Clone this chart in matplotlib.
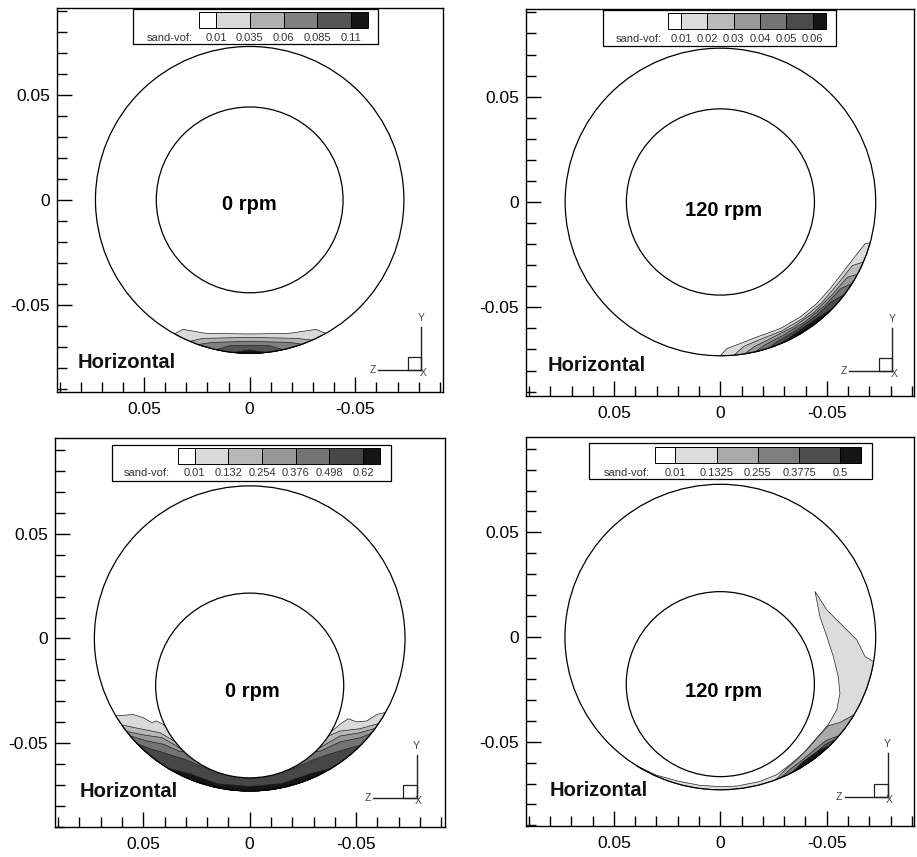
import numpy as np
import matplotlib
matplotlib.use('Agg')
import matplotlib.pyplot as plt
from matplotlib.patches import Circle, Rectangle

plt.rcParams['font.family'] = ['Liberation Sans', 'DejaVu Sans']
plt.rcParams['axes.unicode_minus'] = False

# ---- data ----
R_OUT = 0.073
R_IN = 0.0442
inner_center_y = [0.0, 0.0, -0.0225, -0.0225]
rpm_labels = ['0 rpm', '120 rpm', '0 rpm', '120 rpm']

levels_1 = ['0.01', '0.035', '0.06', '0.085', '0.11']
levels_2 = ['0.01', '0.02', '0.03', '0.04', '0.05', '0.06']
levels_3 = ['0.01', '0.132', '0.254', '0.376', '0.498', '0.62']
levels_4 = ['0.01', '0.1325', '0.255', '0.3775', '0.5']

grays_1 = ['#ffffff', '#d9d9d9', '#b0b0b0', '#808080', '#555555', '#151515']
grays_2 = ['#ffffff', '#dcdcdc', '#bbbbbb', '#999999', '#747474', '#4b4b4b', '#151515']
grays_3 = ['#ffffff', '#dadada', '#b8b8b8', '#979797', '#737373', '#474747', '#151515']
grays_4 = ['#ffffff', '#dcdcdc', '#aaaaaa', '#7e7e7e', '#4e4e4e', '#151515']

# contour boundaries (x, y), each runs from wall to wall
sand_1 = [
    [(0.0355, -0.0635), (0.0316, -0.0616), (0.0206, -0.0635), (0.0, -0.0638),
     (-0.0187, -0.0635), (-0.0313, -0.0616), (-0.036, -0.0635)],
    [(0.0284, -0.0675), (0.0222, -0.0659), (0.0, -0.0654), (-0.0222, -0.0659), (-0.030, -0.0675)],
    [(0.0245, -0.069), (0.0175, -0.0678), (0.0, -0.0673), (-0.0187, -0.0678), (-0.025, -0.069)],
    [(0.0158, -0.0712), (0.0096, -0.0694), (0.0, -0.0692), (-0.0094, -0.0694), (-0.0157, -0.0712)],
    [(0.008, -0.0726), (0.0, -0.0714), (-0.008, -0.0726)],
]
sand_2 = [
    [(-0.0705, -0.0194), (-0.068, -0.0198), (-0.0625, -0.0269), (-0.0571, -0.034),
     (-0.0516, -0.0411), (-0.0453, -0.0482), (-0.0375, -0.0546), (-0.0281, -0.0601),
     (-0.0171, -0.0641), (-0.0093, -0.0672), (-0.003, -0.0696), (0.0001, -0.0736)],
    [(-0.0672, -0.0285), (-0.062, -0.0302), (-0.0553, -0.0387), (-0.0477, -0.0477),
     (-0.0387, -0.0553), (-0.0286, -0.0613), (-0.0176, -0.0657), (-0.0109, -0.0686),
     (-0.0064, -0.0727)],
    [(-0.0645, -0.0343), (-0.0596, -0.0358), (-0.0525, -0.044), (-0.044, -0.0524),
     (-0.0343, -0.0593), (-0.0236, -0.0648), (-0.0159, -0.0687), (-0.0114, -0.0721)],
    [(-0.0619, -0.0387), (-0.0566, -0.0411), (-0.0491, -0.0491), (-0.0398, -0.0569),
     (-0.0295, -0.0633), (-0.0208, -0.0679), (-0.0164, -0.0711)],
    [(-0.0583, -0.0439), (-0.0524, -0.0472), (-0.0452, -0.0539), (-0.0353, -0.0611),
     (-0.0268, -0.0663), (-0.0226, -0.0694)],
    [(-0.0525, -0.0507), (-0.046, -0.0548), (-0.0388, -0.0598), (-0.0327, -0.0642),
     (-0.0285, -0.0672)],
]
sand_3 = [
    [(0.0633, -0.0371), (0.0602, -0.0368), (0.0547, -0.0364), (0.050, -0.0379),
     (0.046, -0.0403), (0.0437, -0.0395), (0.0406, -0.0411), (0.0367, -0.0451),
     (0.0, -0.030), (-0.0378, -0.0451), (-0.0424, -0.0411), (-0.0463, -0.0384),
     (-0.0503, -0.0399), (-0.055, -0.0395), (-0.0597, -0.0364), (-0.0636, -0.0352)],
    [(0.061, -0.0419), (0.0516, -0.0432), (0.0421, -0.0451), (0.0328, -0.0507),
     (0.0, -0.035), (-0.034, -0.048), (-0.0424, -0.0443), (-0.0518, -0.0432),
     (-0.0612, -0.0411)],
    [(0.0587, -0.0451), (0.049, -0.0463), (0.0413, -0.0474), (0.0342, -0.0515),
     (0.0296, -0.0546), (0.0, -0.040), (-0.0315, -0.0531), (-0.0424, -0.0467),
     (-0.0518, -0.0451), (-0.0597, -0.0435)],
    [(0.0578, -0.0479), (0.0484, -0.049), (0.0406, -0.0506), (0.033, -0.054),
     (0.02, -0.055), (0.0, -0.045), (-0.02, -0.055), (-0.033, -0.054),
     (-0.0424, -0.0495), (-0.052, -0.0475), (-0.058, -0.046)],
    [(0.0531, -0.0506), (0.0469, -0.0527), (0.0406, -0.0546), (0.0359, -0.0562),
     (0.03, -0.058), (0.02, -0.0625), (0.0, -0.0672), (-0.02, -0.0625),
     (-0.03, -0.058), (-0.037, -0.0555), (-0.045, -0.053), (-0.052, -0.051)],
    [(0.038, -0.0615), (0.028, -0.0648), (0.015, -0.0695), (0.0, -0.0708),
     (-0.015, -0.0695), (-0.028, -0.0648), (-0.038, -0.0615)],
]
sand_4 = [
    [(-0.072, -0.0118), (-0.068, -0.0093), (-0.0641, -0.0013), (-0.0578, 0.0051),
     (-0.050, 0.013), (-0.0445, 0.0218), (-0.0468, 0.0098), (-0.050, 0.0003),
     (-0.0531, -0.0093), (-0.0554, -0.0189), (-0.0562, -0.0268), (-0.0547, -0.0348),
     (-0.0507, -0.0419), (-0.0452, -0.0483), (-0.039, -0.0555), (-0.0327, -0.061),
     (-0.0264, -0.0658), (-0.0186, -0.069), (-0.008, -0.0712), (0.0, -0.0715),
     (0.01, -0.0708), (0.02, -0.0688), (0.03, -0.066), (0.0393, -0.0615)],
    [(-0.0629, -0.0371), (-0.0562, -0.0408), (-0.0507, -0.0424), (-0.0468, -0.0467),
     (-0.0421, -0.0523), (-0.0359, -0.0587), (-0.0304, -0.0635), (-0.0257, -0.067)],
    [(-0.0553, -0.0467), (-0.0498, -0.0494), (-0.0451, -0.0531), (-0.0397, -0.0578),
     (-0.0335, -0.0626), (-0.028, -0.0666)],
    [(-0.0542, -0.0488), (-0.0494, -0.0513), (-0.0446, -0.0555), (-0.0384, -0.060),
     (-0.0335, -0.065)],
    [(-0.051, -0.0522), (-0.0475, -0.0535), (-0.043, -0.0565), (-0.038, -0.0605),
     (-0.035, -0.064)],
]

panels = [
    (levels_1, grays_1, sand_1),
    (levels_2, grays_2, sand_2),
    (levels_3, grays_3, sand_3),
    (levels_4, grays_4, sand_4),
]

# ---- layout (figure / axes fractions) ----
W, H = 917, 857
ax_px = [(57, 8, 443, 392), (526, 9, 914, 396), (55, 438, 445, 827), (526, 437, 914, 826)]
xlims = [(0.0912, -0.0915), (0.0914, -0.091), (0.0915, -0.0918), (0.0913, -0.091)]
ylims = [(-0.0914, 0.0913), (-0.0921, 0.0916), (-0.0902, 0.0959), (-0.0903, 0.0956)]
legend_box = [(0.197, 0.906, 0.832, 0.997), (0.198, 0.904, 0.799, 0.997),
              (0.146, 0.889, 0.862, 0.982), (0.162, 0.892, 0.892, 0.985)]
swatch_box = [(0.368, 0.948, 0.806, 0.990), (0.366, 0.948, 0.773, 0.990),
              (0.315, 0.933, 0.833, 0.974), (0.332, 0.933, 0.863, 0.974)]
label_y = [0.921, 0.922, 0.909, 0.908]
sandvof_x = [0.352, 0.350, 0.295, 0.320]
triad = [(0.943, 0.057), (0.944, 0.065), (0.927, 0.074), (0.932, 0.075)]
horiz_pos = [(0.054, 0.078), (0.055, 0.080), (0.062, 0.091), (0.062, 0.091)]
rpm_pos = [(0.0, -0.0024), (-0.0014, -0.004), (-0.0012, -0.0252), (-0.0014, -0.026)]


def region(pts):
    p = np.array(pts, dtype=float)
    a0 = np.arctan2(p[0, 1], p[0, 0])
    a1 = np.arctan2(p[-1, 1], p[-1, 0])
    p[0] = R_OUT * np.array([np.cos(a0), np.sin(a0)])
    p[-1] = R_OUT * np.array([np.cos(a1), np.sin(a1)])
    d = (a0 - a1 + np.pi) % (2 * np.pi) - np.pi
    t = a1 + np.linspace(0, d, 80)
    arc = np.c_[R_OUT * np.cos(t), R_OUT * np.sin(t)]
    return np.vstack([p, arc])


fig = plt.figure(figsize=(W / 100, H / 100), dpi=100)

for i, (levels, grays, sand) in enumerate(panels):
    x0, y0, x1, y1 = ax_px[i]
    ax = fig.add_axes([x0 / W, (H - y1) / H, (x1 - x0) / W, (y1 - y0) / H])
    ax.set_xlim(*xlims[i])
    ax.set_ylim(*ylims[i])

    # sand contours
    for k, bnd in enumerate(sand):
        poly = region(bnd)
        ax.fill(poly[:, 0], poly[:, 1], facecolor=grays[k + 1], edgecolor='#222222',
                lw=0.5, zorder=2)

    ax.add_patch(Circle((0, inner_center_y[i]), R_IN, facecolor='white',
                        edgecolor='black', lw=0.9, zorder=3))
    ax.add_patch(Circle((0, 0), R_OUT, facecolor='none', edgecolor='black',
                        lw=0.9, zorder=4))

    ax.text(rpm_pos[i][0], rpm_pos[i][1], rpm_labels[i], ha='center', va='center',
            fontsize=14.5, fontweight='bold', zorder=5)
    ax.text(horiz_pos[i][0], horiz_pos[i][1], 'Horizontal', transform=ax.transAxes,
            ha='left', va='center', fontsize=14.5, fontweight='bold', color='#111111')

    # ticks
    ax.set_xticks([0.05, 0.0, -0.05], ['0.05', '0', '-0.05'])
    ax.set_yticks([-0.05, 0.0, 0.05], ['-0.05', '0', '0.05'])
    minors = np.round(np.arange(-9, 10) * 0.01, 3)
    ax.set_xticks(minors, minor=True)
    ax.set_yticks(minors, minor=True)
    ax.tick_params(which='both', direction='in', top=False, right=False,
                   width=1.0, labelsize=12.5)
    ax.tick_params(which='major', length=11)
    ax.tick_params(which='minor', length=7)
    ax.tick_params(axis='x', pad=7)
    ax.tick_params(axis='y', pad=5)
    for s in ax.spines.values():
        s.set_linewidth(1.0)

    # contour legend
    bx0, by0, bx1, by1 = legend_box[i]
    ax.add_patch(Rectangle((bx0, by0), bx1 - bx0, by1 - by0, transform=ax.transAxes,
                           facecolor='white', edgecolor='black', lw=0.9, zorder=6))
    sx0, sy0, sx1, sy1 = swatch_box[i]
    n = len(levels)
    w = (sx1 - sx0) / n
    edges = [sx0] + [sx0 + 0.5 * w + k * w for k in range(n)] + [sx1]
    for k in range(n + 1):
        ax.add_patch(Rectangle((edges[k], sy0), edges[k + 1] - edges[k], sy1 - sy0,
                               transform=ax.transAxes, facecolor=grays[k],
                               edgecolor='black', lw=0.7, zorder=7))
    for k, lab in enumerate(levels):
        ax.text(edges[k + 1], label_y[i], lab, transform=ax.transAxes, ha='center',
                va='center', fontsize=8, color='#333333', zorder=8)
    ax.text(sandvof_x[i], label_y[i], 'sand-vof:', transform=ax.transAxes, ha='right',
            va='center', fontsize=8, color='#333333', zorder=8)

    # axis triad
    tx, ty = triad[i]
    ax.plot([tx, tx], [ty, ty + 0.112], color='#222222', lw=1.0, transform=ax.transAxes)
    ax.plot([tx - 0.111, tx], [ty, ty], color='#222222', lw=1.0, transform=ax.transAxes)
    ax.add_patch(Rectangle((tx - 0.034, ty), 0.034, 0.034, transform=ax.transAxes,
                           facecolor='none', edgecolor='#222222', lw=0.9))
    ax.text(tx, ty + 0.135, 'Y', transform=ax.transAxes, ha='center', va='center',
            fontsize=7.5, color='#444444')
    ax.text(tx - 0.125, ty, 'Z', transform=ax.transAxes, ha='center', va='center',
            fontsize=7.5, color='#444444')
    ax.text(tx + 0.005, ty - 0.008, 'X', transform=ax.transAxes, ha='center', va='center',
            fontsize=7.5, color='#444444')

fig.savefig('out.png', dpi=100)
